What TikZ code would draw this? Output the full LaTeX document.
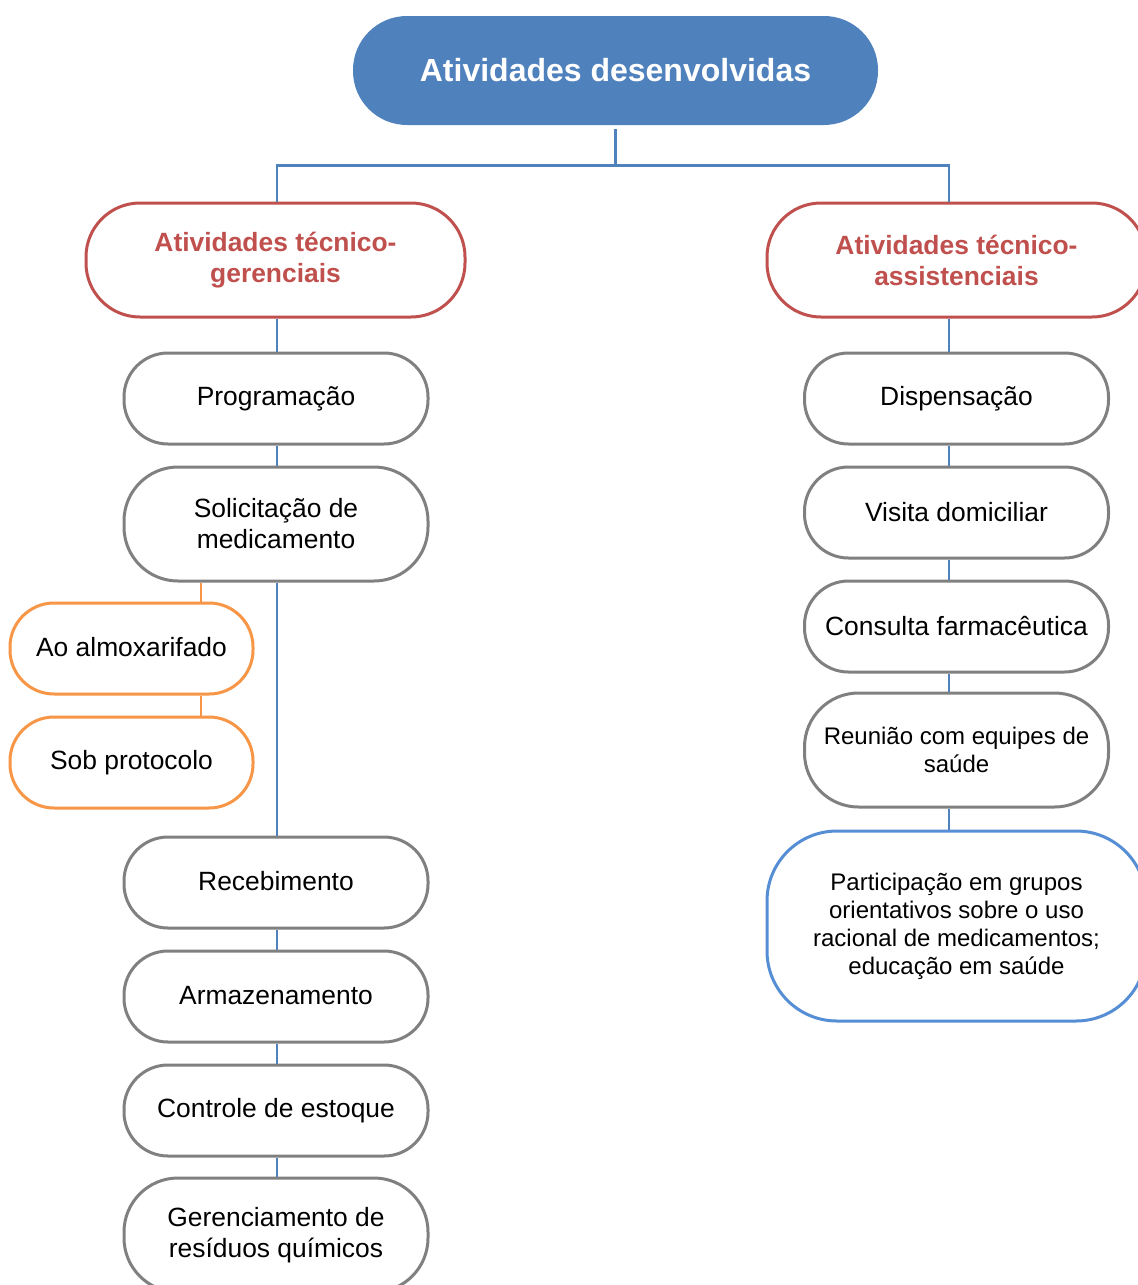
\documentclass[tikz,border=0pt]{standalone}
\usepackage{fontspec}
\setmainfont{Liberation Sans}
\definecolor{tblue}{HTML}{4F81BD}
\definecolor{tred}{HTML}{C0504D}
\definecolor{tgray}{HTML}{808080}
\definecolor{torange}{HTML}{F79646}
\definecolor{lblue}{HTML}{558ED5}
\begin{document}
\begin{tikzpicture}[x=0.5pt,y=-0.5pt,
  base/.style={draw, line width=1.5pt, fill=white, align=center, inner sep=0pt,
    font=\fontsize{13.2}{15.5}\selectfont},
  graybox/.style={base, draw=tgray, minimum width=152pt, minimum height=45.5pt, rounded corners=22pt},
  graytall/.style={graybox, minimum height=57pt, rounded corners=27pt},
  orangebox/.style={base, draw=torange, minimum width=121.5pt, minimum height=45.5pt, rounded corners=22pt},
  redbox/.style={base, draw=tred, text=tred, minimum width=189.5pt, minimum height=57pt, rounded corners=27pt,
    font=\fontsize{13.2}{15.5}\selectfont\bfseries},
  smalltxt/.style={font=\fontsize{12}{14}\selectfont},
  titlebox/.style={fill=tblue, text=white, minimum width=262.5pt, minimum height=54.5pt,
    rounded corners=27pt, inner sep=0pt, font=\fontsize{16}{19}\selectfont\bfseries},
  conn/.style={draw=tblue, line width=1.1pt},
  oconn/.style={draw=torange, line width=1.1pt}]
\path[use as bounding box, clip] (0,0) rectangle (1138,1285);
\fill[white] (0,0) rectangle (1138,1285);

% title
\node[titlebox] (top) at (615.5,70.5) {Atividades desenvolvidas};

% level 2
\node[redbox] (gm) at (275.5,260) {\rule{0pt}{2pt}Atividades técnico-\\gerenciais};
\node[redbox] (as) at (956.5,260) {Atividades técnico-\\assistenciais};

% left column
\node[graybox] (prog) at (276,398.5) {\rule[-1.5pt]{0pt}{1pt}Programação};
\node[graytall] (sol) at (276,524) {Solicitação de\\medicamento};
\node[orangebox] (almox) at (131.5,648.5) {\rule[-1.5pt]{0pt}{1pt}Ao almoxarifado};
\node[orangebox] (sob) at (131.5,762.5) {\rule[-1.5pt]{0pt}{1pt}Sob protocolo};
\node[graybox] (rec) at (276,882.5) {\rule[-1.5pt]{0pt}{1pt}Recebimento};
\node[graybox] (arm) at (276,996.5) {\rule[-1.5pt]{0pt}{1pt}Armazenamento};
\node[graybox] (ctrl) at (276,1110.5) {\rule[-1.5pt]{0pt}{1pt}Controle de estoque};
\node[graytall] (ger) at (276,1235) {Gerenciamento de\\resíduos químicos};

% right column
\node[graybox] (disp) at (956.5,398.5) {\rule[-1.5pt]{0pt}{1pt}Dispensação};
\node[graybox] (vis) at (956.5,512.5) {Visita domiciliar};
\node[graybox] (cons) at (956.5,626.5) {Consulta farmacêutica};
\node[graytall, smalltxt] (reun) at (956.5,750) {Reunião com equipes de\\saúde};
\node[base, draw=lblue, smalltxt, minimum width=189.5pt, minimum height=95pt, rounded corners=35pt] (part) at (956.5,926)
  {Participação em grupos\\orientativos sobre o uso\\racional de medicamentos;\\educação em saúde};

% connector coordinates
\coordinate (ox) at (201,0);
\coordinate (rx) at (949,0);
\coordinate (lx) at (277,0);

% top connectors
\draw[conn] ([yshift=-2pt]top.south) -- ++(0,36) -| (gm.north -| lx);
\draw[conn] ([yshift=-2pt]top.south) -- ++(0,36) -| (as.north -| rx);

% left connectors
\draw[conn] (gm.south -| lx) -- (prog.north -| lx);
\draw[conn] (prog.south -| lx) -- (sol.north -| lx);
\draw[conn] (sol.south -| lx) -- (rec.north -| lx);
\draw[conn] (rec.south -| lx) -- (arm.north -| lx);
\draw[conn] (arm.south -| lx) -- (ctrl.north -| lx);
\draw[conn] (ctrl.south -| lx) -- (ger.north -| lx);
\draw[oconn] (sol.south -| ox) -- (almox.north -| ox);
\draw[oconn] (almox.south -| ox) -- (sob.north -| ox);

% right connectors
\draw[conn] (as.south -| rx) -- (disp.north -| rx);
\draw[conn] (disp.south -| rx) -- (vis.north -| rx);
\draw[conn] (vis.south -| rx) -- (cons.north -| rx);
\draw[conn] (cons.south -| rx) -- (reun.north -| rx);
\draw[conn] (reun.south -| rx) -- (part.north -| rx);
\end{tikzpicture}
\end{document}
